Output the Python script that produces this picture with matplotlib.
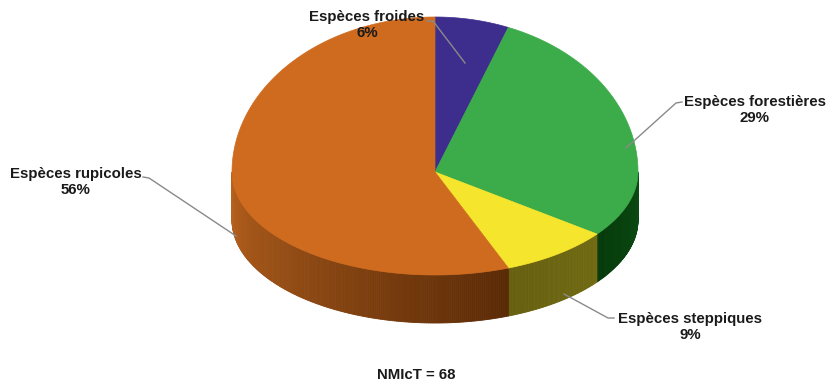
import numpy as np
import matplotlib
matplotlib.use("Agg")
import matplotlib.pyplot as plt
from matplotlib.patches import Polygon
from matplotlib.colors import to_rgb

# counts per group (total NMIcT = 68)
groups = ["Espèces froides", "Espèces forestières", "Espèces steppiques", "Espèces rupicoles"]
counts = [4, 20, 6, 38]
pct_labels = ["6%", "29%", "9%", "56%"]

top_colors = ["#3d2e8e", "#3cab49", "#f5e52c", "#cf6b1f"]
# side shading: (light end at left, dark end at right)
side_colors = [("#241a5a", "#241a5a"), ("#0c4d14", "#053a0a"),
               ("#716a12", "#666010"), ("#b8621e", "#5a2a06")]

# pie geometry in pixel units
cx, cy = 435, 172
rx = 203
ry_back, ry_front = 155, 103
depth = 48


def rim(t):
    t = np.asarray(t)
    ry = np.where(np.cos(t) > 0, ry_back, ry_front)
    return cx + rx * np.sin(t), cy - ry * np.cos(t)


def mix(c1, c2, f):
    a, b = np.array(to_rgb(c1)), np.array(to_rgb(c2))
    return tuple(a + (b - a) * f)


fig = plt.figure(figsize=(8.28, 3.85), dpi=100)
ax = fig.add_axes([0, 0, 1, 1])
ax.set_xlim(0, 828)
ax.set_ylim(385, 0)
ax.axis("off")

fracs = np.array(counts) / sum(counts)
bounds = np.concatenate([[0], np.cumsum(fracs)]) * 2 * np.pi

# side walls, only the front half (90..270 deg) is visible
lo, hi = np.pi / 2, 3 * np.pi / 2
for i in range(len(counts)):
    a0, a1 = max(bounds[i], lo), min(bounds[i + 1], hi)
    if a1 <= a0:
        continue
    steps = max(int((a1 - a0) / 0.01), 2)
    ts = np.linspace(a0, a1, steps + 1)
    light, dark = side_colors[i]
    for j in range(steps):
        t0, t1 = ts[j], ts[j + 1]
        x0, y0 = rim(t0)
        x1, y1 = rim(t1)
        f = (hi - 0.5 * (t0 + t1)) / (hi - a0) if i == 3 else (0.5 * (t0 + t1) - a0) / (a1 - a0)
        c = mix(light, dark, f)
        ax.add_patch(Polygon([(x0, y0), (x1, y1), (x1, y1 + depth), (x0, y0 + depth)],
                             closed=True, facecolor=c, edgecolor=c, lw=0.6))

# top faces
for i in range(len(counts)):
    ts = np.linspace(bounds[i], bounds[i + 1], 200)
    xs, ys = rim(ts)
    pts = [(cx, cy)] + list(zip(xs, ys))
    ax.add_patch(Polygon(pts, closed=True, facecolor=top_colors[i],
                         edgecolor=top_colors[i], lw=0.5))

# labels and leader lines
label_pos = [(367, 25), (755, 110), (690, 327), (76, 182)]
leaders = [
    [(427, 21), (433, 21), (465, 63)],
    [(682, 102), (676, 103), (626, 148)],
    [(614, 318), (608, 318), (564, 294)],
    [(143, 177), (149, 178), (236, 236)],
]
for name, pct, (lx, ly), line in zip(groups, pct_labels, label_pos, leaders):
    ax.text(lx, ly, f"{name}\n{pct}", ha="center", va="center", multialignment="center",
            fontsize=10.8, fontweight="bold", family="Liberation Sans", color="#1a1a1a",
            linespacing=1.15)
    lx_, ly_ = zip(*line)
    ax.plot(lx_, ly_, color="#8a8a8a", lw=1)

ax.text(416, 375, "NMIcT = 68", ha="center", va="center", fontsize=10.8,
        fontweight="bold", family="Liberation Sans", color="#1a1a1a")

fig.savefig("out.png", dpi=100, facecolor="white")
